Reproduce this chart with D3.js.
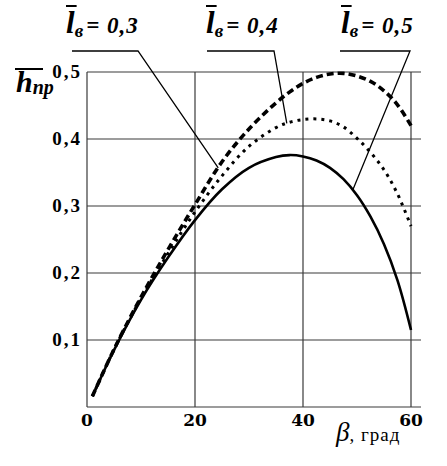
<!DOCTYPE html>
<html>
<head>
<meta charset="utf-8">
<script src="https://cdnjs.cloudflare.com/ajax/libs/d3/7.8.5/d3.min.js"></script>
<style>
  body { margin: 0; background: #fff; }
  svg { display: block; }
</style>
</head>
<body>
<div id="chart"></div>
<script>
// beta, degrees
const betaValues = [1, 5, 10, 15, 20, 25, 30, 35, 37.5, 40, 42.5, 45, 47.5, 50, 52.5, 55, 57.5, 60];
// h_np for l_v = 0.3 (dashed), 0.4 (dotted), 0.5 (solid)
const hL03 = [0.016, 0.086, 0.164, 0.235, 0.302, 0.366, 0.415, 0.454, 0.470, 0.483, 0.492, 0.497, 0.498, 0.494, 0.486, 0.472, 0.451, 0.420];
const hL04 = [0.016, 0.086, 0.162, 0.229, 0.291, 0.345, 0.389, 0.417, 0.425, 0.429, 0.430, 0.427, 0.418, 0.401, 0.380, 0.354, 0.318, 0.270];
const hL05 = [0.016, 0.085, 0.160, 0.223, 0.279, 0.325, 0.357, 0.373, 0.376, 0.374, 0.368, 0.357, 0.340, 0.316, 0.284, 0.243, 0.189, 0.115];
const seriesLabels = ["0,3", "0,4", "0,5"];
const xTicks = [0, 20, 40, 60];
const yTicks = [0.1, 0.2, 0.3, 0.4, 0.5];
// where each leader line touches its curve (beta)
const leaderBeta = [24.3, 37, 49.2];

!(function () {
  const width = 447, height = 466;

  const svg = d3.select("#chart")
    .append("svg")
    .attr("width", width)
    .attr("height", height);

  const x = d3.scaleLinear().domain([0, 60]).range([87, 411]);
  const y = d3.scaleLinear().domain([0, 0.5]).range([407, 72]);
  const gridRight = 421;

  // grid
  const grid = svg.append("g").attr("stroke", "#3a3a3a").attr("stroke-width", 1.2);
  grid.selectAll("line.h")
    .data([0].concat(yTicks))
    .enter()
    .append("line")
    .attr("x1", x(0)).attr("x2", gridRight)
    .attr("y1", d => y(d)).attr("y2", d => y(d));
  grid.selectAll("line.v")
    .data(xTicks)
    .enter()
    .append("line")
    .attr("x1", d => x(d)).attr("x2", d => x(d))
    .attr("y1", y(0)).attr("y2", y(0.5));

  // tick labels
  svg.append("g")
    .selectAll("text")
    .data(xTicks)
    .enter()
    .append("text")
    .attr("x", d => x(d))
    .attr("y", 426)
    .attr("text-anchor", "middle")
    .attr("font-family", "DejaVu Serif")
    .attr("font-weight", "bold")
    .attr("font-size", 17)
    .text(d => d);

  svg.append("g")
    .selectAll("text")
    .data(yTicks)
    .enter()
    .append("text")
    .attr("x", 82)
    .attr("y", d => y(d) + 6)
    .attr("text-anchor", "end")
    .attr("font-family", "Liberation Serif")
    .attr("font-weight", "bold")
    .attr("font-size", 19)
    .attr("letter-spacing", 2)
    .text(d => d3.format(".1f")(d).replace(".", ","));

  // curves
  const line = d3.line()
    .x(d => x(d[0]))
    .y(d => y(d[1]))
    .curve(d3.curveCatmullRom.alpha(0.5));

  const series = [
    { values: hL03, dash: "7 4", width: 3.6 },
    { values: hL04, dash: "3 5", width: 3 },
    { values: hL05, dash: null, width: 2.6 }
  ];

  svg.append("g")
    .selectAll("path")
    .data(series)
    .enter()
    .append("path")
    .attr("d", s => line(betaValues.map((b, i) => [b, s.values[i]])))
    .attr("fill", "none")
    .attr("stroke", "#000")
    .attr("stroke-width", s => s.width)
    .attr("stroke-dasharray", s => s.dash);

  // value on a series at a given beta (linear between points)
  function valueAt(values, b) {
    const i = d3.bisectLeft(betaValues, b);
    if (i <= 0) return values[0];
    const t = (b - betaValues[i - 1]) / (betaValues[i] - betaValues[i - 1]);
    return values[i - 1] + t * (values[i] - values[i - 1]);
  }

  // labels with leader lines
  const labelPos = [
    { lx: 66, x1: 72, x2: 138 },
    { lx: 206, x1: 207, x2: 274 },
    { lx: 341, x1: 340, x2: 410 }
  ];
  const leaders = svg.append("g").attr("stroke", "#000").attr("stroke-width", 1.3).attr("fill", "none");

  seriesLabels.forEach(function (lab, i) {
    const p = labelPos[i];
    const b = leaderBeta[i];
    leaders.append("path")
      .attr("d", "M" + p.x1 + ",51H" + p.x2 + "L" + x(b) + "," + y(valueAt(series[i].values, b)));

    const t = svg.append("text")
      .attr("x", p.lx).attr("y", 33)
      .attr("font-family", "Times New Roman")
      .attr("font-weight", "bold")
      .attr("font-style", "italic");
    t.append("tspan").attr("font-size", 31).text("l");
    t.append("tspan").attr("font-size", 19).attr("dy", 4).text("в");
    t.append("tspan").attr("font-size", 23).attr("dy", -4).attr("dx", 3).attr("letter-spacing", 1).text("= " + lab);
    const ext = t.node().getExtentOfChar(0);
    svg.append("line")
      .attr("x1", ext.x).attr("x2", ext.x + ext.width + 2)
      .attr("y1", 6).attr("y2", 6)
      .attr("stroke", "#000").attr("stroke-width", 2);
  });

  // y title
  svg.append("line")
    .attr("x1", 15).attr("x2", 43).attr("y1", 69).attr("y2", 69)
    .attr("stroke", "#000").attr("stroke-width", 2);
  const yt = svg.append("text")
    .attr("x", 16).attr("y", 92)
    .attr("font-family", "serif")
    .attr("font-weight", "bold")
    .attr("font-style", "italic");
  yt.append("tspan").attr("font-size", 30).text("h");
  yt.append("tspan").attr("font-size", 20).attr("dy", 2).text("np");

  // x title
  const xt = svg.append("text")
    .attr("x", 336).attr("y", 441)
    .attr("font-family", "Liberation Serif");
  xt.append("tspan").attr("font-size", 27).attr("font-style", "italic").text("β");
  xt.append("tspan").attr("font-size", 19).attr("letter-spacing", 1).text(", град");
})();
</script>
</body>
</html>
